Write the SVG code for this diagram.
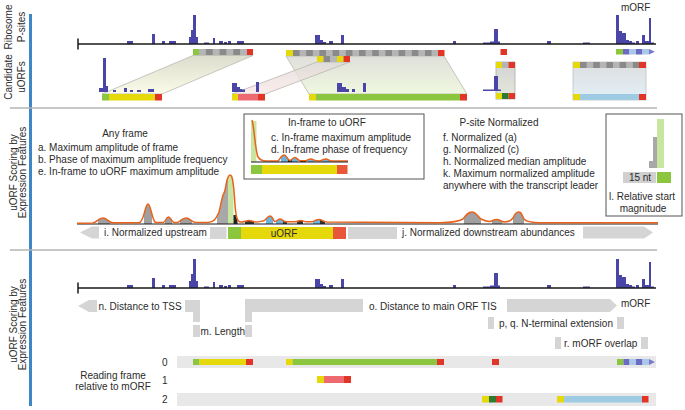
<svg xmlns="http://www.w3.org/2000/svg" width="685" height="410" viewBox="0 0 685 410">
<style>
text{font-family:"Liberation Sans",Arial,sans-serif;font-size:10px;fill:#2b2b2b}
.mid{text-anchor:middle}
.ps{fill:#4a46a8}
.ax{stroke:#1a1a1a;stroke-width:1.5;fill:none}
.sep{stroke:#b4b4b4;stroke-width:1.5}
.g{fill:#8cc63f}.y{fill:#e6d90b}.r{fill:#e03527}.pk{fill:#ee6a70}.dg{fill:#2e7a30}.lb{fill:#9ecbe2}
.dk{fill:#8a8a8a}.lt{fill:#b5b5b5}
.arr{fill:#d5d5d5}
.band{fill:#e8e8e8}
.box{fill:none;stroke:#555;stroke-width:1}
.crv{fill:none;stroke:#e8621c;stroke-width:1.5}
.mp{fill:#6b6bc4}.ml{fill:#aac8ea}
.trap{stroke:#b8b8b0;stroke-width:0.8}
</style>
<defs>
<pattern id="chkD" width="13.2" height="20" patternUnits="userSpaceOnUse"><rect width="6.6" height="20" fill="#8a8a8a"/><rect x="6.6" width="6.6" height="20" fill="#b5b5b5"/></pattern>
<pattern id="chkL" width="13.7" height="20" patternUnits="userSpaceOnUse"><rect width="6.85" height="20" fill="#b5b5b5"/><rect x="6.85" width="6.85" height="20" fill="#8a8a8a"/></pattern>
<linearGradient id="gr1" x1="0" y1="0" x2="0" y2="1"><stop offset="0" stop-color="#d9d9c8"/><stop offset="1" stop-color="#fbfbe6"/></linearGradient>
<linearGradient id="gr2" x1="0" y1="0" x2="0" y2="1"><stop offset="0" stop-color="#dedad6"/><stop offset="1" stop-color="#fbe6e6"/></linearGradient>
<linearGradient id="gr3" x1="0" y1="0" x2="0" y2="1"><stop offset="0" stop-color="#dcdcd6"/><stop offset="1" stop-color="#eef7dc"/></linearGradient>
<linearGradient id="gr4" x1="0" y1="0" x2="0" y2="1"><stop offset="0" stop-color="#d4d4d4"/><stop offset="1" stop-color="#e4e8da"/></linearGradient>
<linearGradient id="gr5" x1="0" y1="0" x2="0" y2="1"><stop offset="0" stop-color="#dedede"/><stop offset="1" stop-color="#e2f0f8"/></linearGradient>
<g id="hist">
<rect class="ps" x="127" y="41" width="6" height="3"/>
<rect class="ps" x="152" y="34" width="3" height="10"/>
<rect class="ps" x="162" y="41" width="3" height="3"/>
<rect class="ps" x="169" y="41" width="7" height="3"/>
<rect class="ps" x="189" y="37" width="2" height="7"/>
<rect class="ps" x="191" y="30" width="2" height="14"/>
<rect class="ps" x="193" y="15" width="3" height="29"/>
<rect class="ps" x="196" y="37" width="2" height="7"/>
<rect class="ps" x="204" y="42.5" width="5" height="1.5"/>
<rect class="ps" x="213" y="38" width="2" height="6"/>
<rect class="ps" x="219" y="41" width="4" height="3"/>
<rect class="ps" x="224" y="42" width="3" height="2"/>
<rect class="ps" x="228" y="41" width="3" height="3"/>
<rect class="ps" x="237" y="41" width="7" height="3"/>
<rect class="ps" x="315" y="35" width="5" height="9"/>
<rect class="ps" x="320" y="40" width="3" height="4"/>
<rect class="ps" x="323" y="42" width="3" height="2"/>
<rect class="ps" x="329" y="41" width="4" height="3"/>
<rect class="ps" x="341" y="35" width="3" height="9"/>
<rect class="ps" x="453" y="41" width="3" height="3"/>
<rect class="ps" x="483" y="42.5" width="7" height="1.5"/>
<rect class="ps" x="490" y="41.5" width="4" height="2.5"/>
<rect class="ps" x="494" y="29" width="4" height="15"/>
<rect class="ps" x="498" y="41.5" width="2" height="2.5"/>
<rect class="ps" x="547" y="41" width="4" height="3"/>
<rect class="ps" x="583" y="42.5" width="7" height="1.5"/>
<rect class="ps" x="616" y="15" width="3" height="29"/>
<rect class="ps" x="619" y="31" width="3" height="13"/>
<rect class="ps" x="622" y="33" width="4" height="11"/>
<rect class="ps" x="626" y="40" width="3" height="4"/>
<rect class="ps" x="629" y="41" width="3" height="3"/>
<rect class="ps" x="632" y="42.5" width="3" height="1.5"/>
<rect class="ps" x="636" y="41" width="3" height="3"/>
<rect class="ps" x="642" y="35" width="3" height="9"/>
<rect class="ps" x="645" y="41" width="4" height="3"/>
<rect class="ps" x="649" y="18" width="2" height="26"/>
<rect class="ps" x="651" y="42.5" width="3" height="1.5"/>
<path class="ax" d="M78,44 H656 M78,38.5 V49.5"/>
</g>
<clipPath id="under"><path d="M77,223.3 L93,223 C97,222.5 98,218 103,218 C107,218 108,222.5 113,222.8 L139,222.8 C144,222.5 145,204 148,204 C151,204 152,222 156,222.6 L163,222.5 C166,222 166,217 168.5,217 C171,217 171,222 174,222.4 L178,222.4 C181,221 182,218 186,218 C190,218 191,221.5 195,222.3 L208,222.5 C214,222 216,219 219,212 C221,205 222,196 224,193 C226,190 226,176 230,175 C233,174 234,190 235,205 C236,215 236.5,221 240,222 C244,222.5 246,220.5 249,220.5 C252,220.5 253,222 256,222 C260,222 261,221 263,221 C266,221 267,216 270,216 C273,216 273,221.5 275,221.5 C277,221.5 278,219 280,219 C282,219 283,221.5 286,221.8 L296,221.8 C298,221 299,220.5 301,220.5 C303,220.5 304,221.8 306,221.8 L312,221.8 C315,221 316,219.5 319,219.5 C322,219.5 323,221.5 327,222 L440,222.8 C450,222.5 458,222 463,219 C466,215 468,212 472,212 C476,212 478,217 481,219 C484,220.5 487,222 490,221.5 C492,221 494,219.5 497,219.5 C500,219.5 501,222 504,222 C508,222 511,221 513,218 C515,214 516,212 519,212 C522,212 522,216 524,219 C526,221.5 530,222.5 540,222.8 L658,222.8 L658,224 L77,224 Z"/></clipPath>
<clipPath id="under2"><path d="M252,120 C254,125 255,150 258,157 C260,160 262,161 266,161 L278,161 C280,160 281,155 284,155 C287,155 287,160 290,160.5 C292,160 293,157.5 295,157.5 C297,157.5 298,160.5 300,160.8 L306,160.8 C308,160 309,159 311,159 C313,159 314,160.8 316,160.8 L320,161 C322,160 324,159 326,159 C328,159 329,160.8 332,161 L348,161 L348,162 L252,162 Z"/></clipPath>
</defs>

<rect x="29" y="14" width="3" height="392" fill="#3f86c6"/>
<line class="sep" x1="10" y1="108" x2="657" y2="108"/>
<line class="sep" x1="10" y1="250" x2="657" y2="250"/>

<g id="labels-left">
<text class="mid" transform="translate(12,27) rotate(-90)">Ribosome</text>
<text class="mid" transform="translate(24.5,27) rotate(-90)">P-sites</text>
<text class="mid" transform="translate(12,77) rotate(-90)">Candidate</text>
<text class="mid" transform="translate(24.5,77) rotate(-90)">uORFs</text>
<text class="mid" transform="translate(16.5,172.5) rotate(-90)">uORF Scoring by</text>
<text class="mid" transform="translate(26,172.5) rotate(-90)">Expression Features</text>
<text class="mid" transform="translate(16.5,324.5) rotate(-90)">uORF Scoring by</text>
<text class="mid" transform="translate(26,324.5) rotate(-90)">Expression Features</text>
</g>

<!-- Section 1 -->
<g id="psites-top">
<use href="#hist"/>
<text x="621" y="10.5">mORF</text>
</g>

<g id="projections">
<polygon class="trap" points="193,55.5 253,55.5 162,94 102,94" fill="url(#gr1)" fill-opacity="0.9"/>
<polygon class="trap" points="286,56 444,56 467,94 309,94" fill="url(#gr3)" fill-opacity="0.9"/>
<polygon class="trap" points="317,62 350,62 265,94 232,94" fill="url(#gr2)" fill-opacity="0.75"/>
</g>

<g id="transcript-orfs">
<rect class="g" x="193" y="49" width="6" height="6"/>
<rect x="0" y="0" width="48" height="6" fill="url(#chkL)" transform="translate(199,49)"/>
<rect class="r" x="247" y="49" width="6" height="6"/>
<rect class="y" x="286" y="50" width="7" height="6"/>
<rect x="0" y="0" width="145" height="6" fill="url(#chkD)" transform="translate(293,50)"/>
<rect class="r" x="438" y="50" width="6.5" height="6"/>
<rect class="y" x="317" y="56" width="6.5" height="6"/>
<rect class="dk" x="323.5" y="56" width="6.5" height="6"/>
<rect class="lt" x="330" y="56" width="7" height="6"/>
<rect class="y" x="337" y="56" width="6.5" height="6"/>
<rect class="r" x="343.5" y="56" width="6.5" height="6"/>
<rect class="r" x="500.5" y="49" width="6.5" height="6"/>
<rect class="g" x="616" y="49" width="7" height="5.5"/>
<rect class="mp" x="623" y="49" width="6.5" height="5.5"/>
<rect class="ml" x="629.5" y="49" width="6.5" height="5.5"/>
<rect class="mp" x="636" y="49" width="6.5" height="5.5"/>
<rect class="ml" x="642.5" y="49" width="6.5" height="5.5"/>
<polygon points="649,49 655,51.75 649,54.5" fill="#7a7acc"/>
</g>

<g id="uorf1">
<rect class="ps" x="99" y="88" width="4" height="4"/>
<rect class="ps" x="103" y="58" width="3" height="34"/>
<rect class="ps" x="106" y="86" width="2" height="6"/>
<rect class="ps" x="113" y="90" width="3" height="2"/>
<rect class="ps" x="124" y="88" width="3" height="4"/>
<rect class="ps" x="130" y="90" width="3" height="2"/>
<rect class="ps" x="137" y="90" width="4" height="2"/>
<rect class="ps" x="148" y="89" width="6" height="3"/>
<rect class="g" x="102" y="94" width="7" height="6.5"/>
<rect class="y" x="109" y="94" width="46" height="6.5"/>
<rect class="r" x="155" y="94" width="7" height="6.5"/>
</g>

<g id="uorf2">
<rect class="ps" x="232" y="83" width="5" height="9"/>
<rect class="ps" x="237" y="87" width="3" height="5"/>
<rect class="ps" x="240" y="89" width="2" height="3"/>
<rect class="ps" x="242" y="89.5" width="3" height="2.5"/>
<rect class="ps" x="256" y="82" width="3" height="10"/>
<rect class="y" x="232" y="94" width="6" height="6.5"/>
<rect class="pk" x="238" y="94" width="20" height="6.5"/>
<rect class="r" x="258" y="94" width="7" height="6.5"/>
</g>

<g id="uorf3">
<rect class="ps" x="337" y="83" width="5" height="9"/>
<rect class="ps" x="342" y="87" width="4" height="5"/>
<rect class="ps" x="346" y="89" width="3" height="3"/>
<rect class="ps" x="352" y="89" width="3" height="3"/>
<rect class="ps" x="363" y="83" width="3" height="9"/>
<rect class="y" x="309" y="94" width="7" height="6.5"/>
<rect class="g" x="316" y="94" width="144" height="6.5"/>
<rect class="r" x="460" y="94" width="7" height="6.5"/>
</g>

<g id="uorf4">
<rect x="496" y="62" width="19" height="37" fill="url(#gr4)" stroke="#aaa" stroke-width="0.8"/>
<rect class="ps" x="483" y="89.5" width="11" height="1.5"/>
<rect class="ps" x="494" y="76" width="4" height="15"/>
<rect class="ps" x="498" y="89.5" width="3" height="1.5"/>
<rect class="y" x="496" y="62" width="6" height="6"/>
<rect class="lt" x="502" y="62" width="6.5" height="6"/>
<rect class="r" x="508.5" y="62" width="6.5" height="6"/>
<rect class="y" x="496" y="93" width="6" height="6"/>
<rect class="dg" x="502" y="93" width="6.5" height="6"/>
<rect class="r" x="508.5" y="93" width="6.5" height="6"/>
</g>

<g id="uorf5">
<rect x="573" y="62" width="73" height="38" fill="url(#gr5)" stroke="#c0c0c0" stroke-width="0.8"/>
<rect class="y" x="573" y="62" width="7" height="6"/>
<rect x="0" y="0" width="59" height="6" fill="url(#chkD)" transform="translate(580,62)"/>
<rect class="r" x="639" y="62" width="7" height="6"/>
<rect class="y" x="573" y="94" width="7" height="6"/>
<rect class="lb" x="580" y="94" width="59" height="6"/>
<rect class="r" x="639" y="94" width="7" height="6"/>
</g>

<!-- Section 2 -->
<g id="any-frame">
<text class="mid" x="125" y="137">Any frame</text>
<text x="38" y="151">a. Maximum amplitude of frame</text>
<text x="38" y="163">b. Phase of maximum amplitude frequency</text>
<text x="38" y="175">e. In-frame to uORF maximum amplitude</text>
</g>

<g id="in-frame-box">
<rect class="box" x="244" y="114" width="180" height="65"/>
<rect x="251" y="121" width="5.5" height="41" fill="#c8e6a0"/>
<g clip-path="url(#under2)">
<rect x="281" y="150" width="7" height="12" fill="#6db4dc"/>
<rect x="292" y="150" width="6" height="12" fill="#6db4dc"/>
<rect x="308" y="150" width="6" height="12" fill="#6db4dc"/>
<rect x="322" y="150" width="8" height="12" fill="#6db4dc"/>
<rect x="300" y="159.5" width="6" height="3" fill="#222"/>
<rect x="288" y="159.5" width="4" height="3" fill="#222"/>
</g>
<path class="crv" d="M252,120 C254,125 255,150 258,157 C260,160 262,161 266,161 L278,161 C280,160 281,155 284,155 C287,155 287,160 290,160.5 C292,160 293,157.5 295,157.5 C297,157.5 298,160.5 300,160.8 L306,160.8 C308,160 309,159 311,159 C313,159 314,160.8 316,160.8 L320,161 C322,160 324,159 326,159 C328,159 329,160.8 332,161 L348,161"/>
<line x1="251" y1="162" x2="348" y2="162" stroke="#1a1a1a" stroke-width="1.2"/>
<rect class="g" x="251" y="165" width="11" height="9"/>
<rect class="y" x="262" y="165" width="75" height="9"/>
<rect x="337" y="165" width="10.5" height="9" fill="#e8573a"/>
<text class="mid" x="327" y="126">In-frame to uORF</text>
<text x="271" y="140.5">c. In-frame maximum amplitude</text>
<text x="271" y="152.5">d. In-frame phase of frequency</text>
</g>

<g id="psite-normalized">
<text class="mid" x="499" y="126">P-site Normalized</text>
<text x="443" y="141">f. Normalized (a)</text>
<text x="443" y="153">g. Normalized (c)</text>
<text x="443" y="165">h. Normalized median amplitude</text>
<text x="443" y="177">k. Maximum normalized amplitude</text>
<text x="443" y="189">anywhere with the transcript leader</text>
</g>

<g id="start-magnitude">
<rect class="box" x="606" y="114" width="76" height="102"/>
<rect x="657" y="119" width="7" height="49" fill="#c8e6a0"/>
<rect x="653" y="137" width="4" height="31" fill="#a8a8a8"/>
<rect x="649" y="161" width="4" height="7" fill="#a8a8a8"/>
<rect x="623" y="172" width="33" height="11" fill="#d0d0d0"/>
<rect x="657" y="172" width="14" height="11" fill="#8cc63f"/>
<text class="mid" x="640" y="181">15 nt</text>
<text class="mid" x="642" y="200">l. Relative start</text>
<text class="mid" x="643" y="211.5">magnitude</text>
</g>

<g id="profile">
<g clip-path="url(#under)">
<rect x="98" y="200" width="12" height="24" fill="#a0a0a0"/>
<rect x="144" y="200" width="8" height="24" fill="#a0a0a0"/>
<rect x="165" y="200" width="7" height="24" fill="#a0a0a0"/>
<rect x="180" y="200" width="12" height="24" fill="#a0a0a0"/>
<rect x="217" y="170" width="11" height="54" fill="#a8a8a8"/>
<rect x="228" y="170" width="5.5" height="54" fill="#c8e6a0"/>
<rect x="233.5" y="215" width="4" height="9" fill="#222"/>
<rect x="245" y="215" width="9" height="9" fill="#333"/>
<rect x="266" y="210" width="7" height="14" fill="#6db4dc"/>
<rect x="276" y="210" width="7" height="14" fill="#6db4dc"/>
<rect x="283" y="221" width="4" height="3" fill="#333"/>
<rect x="297" y="210" width="6" height="14" fill="#333"/>
<rect x="313" y="210" width="7" height="14" fill="#6db4dc"/>
<rect x="320" y="210" width="5" height="14" fill="#333"/>
<rect x="464" y="205" width="17" height="19" fill="#a0a0a0"/>
<rect x="492" y="205" width="10" height="19" fill="#a0a0a0"/>
<rect x="513" y="205" width="11" height="19" fill="#a0a0a0"/>
</g>
<line x1="77" y1="224" x2="658" y2="224" stroke="#1a1a1a" stroke-width="1.2"/>
<path class="crv" d="M77,223.3 L93,223 C97,222.5 98,218 103,218 C107,218 108,222.5 113,222.8 L139,222.8 C144,222.5 145,204 148,204 C151,204 152,222 156,222.6 L163,222.5 C166,222 166,217 168.5,217 C171,217 171,222 174,222.4 L178,222.4 C181,221 182,218 186,218 C190,218 191,221.5 195,222.3 L208,222.5 C214,222 216,219 219,212 C221,205 222,196 224,193 C226,190 226,176 230,175 C233,174 234,190 235,205 C236,215 236.5,221 240,222 C244,222.5 246,220.5 249,220.5 C252,220.5 253,222 256,222 C260,222 261,221 263,221 C266,221 267,216 270,216 C273,216 273,221.5 275,221.5 C277,221.5 278,219 280,219 C282,219 283,221.5 286,221.8 L296,221.8 C298,221 299,220.5 301,220.5 C303,220.5 304,221.8 306,221.8 L312,221.8 C315,221 316,219.5 319,219.5 C322,219.5 323,221.5 327,222 L440,222.8 C450,222.5 458,222 463,219 C466,215 468,212 472,212 C476,212 478,217 481,219 C484,220.5 487,222 490,221.5 C492,221 494,219.5 497,219.5 C500,219.5 501,222 504,222 C508,222 511,221 513,218 C515,214 516,212 519,212 C522,212 522,216 524,219 C526,221.5 530,222.5 540,222.8 L658,222.8"/>
</g>

<g id="profile-bars">
<polygon class="arr" points="80,232.5 92,226.5 210,226.5 210,238.5 92,238.5"/>
<rect x="99" y="226.5" width="111" height="12" fill="#fff"/>
<rect class="arr" x="210" y="227" width="16.5" height="12"/>
<text x="104" y="236">i. Normalized upstream</text>
<rect class="g" x="228" y="227" width="13" height="12"/>
<rect class="y" x="241" y="227" width="92" height="12"/>
<rect x="333" y="227" width="13" height="12" fill="#e8573a"/>
<text class="mid" x="284" y="236.5">uORF</text>
<rect class="arr" x="348" y="227" width="49" height="12"/>
<text x="402" y="236">j. Normalized downstream abundances</text>
<polygon class="arr" points="583,226.5 644,226.5 653,232.5 644,238.5 583,238.5"/>
</g>

<!-- Section 3 -->
<g id="psites-bottom">
<use href="#hist" y="244"/>
</g>

<g id="feat-n">
<polygon class="arr" points="78,306 89,300 97,300 97,312 89,312"/>
<text x="98.5" y="310">n. Distance to TSS</text>
<rect class="arr" x="185" y="300" width="15" height="12"/>
<rect class="arr" x="193" y="300" width="7" height="22"/>
</g>
<g id="feat-m">
<rect class="arr" x="193" y="325" width="7" height="12"/>
<text x="200.5" y="335">m. Length</text>
<rect class="arr" x="245" y="325" width="7" height="12"/>
</g>
<g id="feat-o">
<rect class="arr" x="245" y="299" width="7" height="23"/>
<rect class="arr" x="245" y="299" width="118" height="13"/>
<text x="369" y="309.5">o. Distance to main ORF TIS</text>
<polygon class="arr" points="507,299 610,299 617,305.5 610,312 507,312"/>
<text x="621" y="307">mORF</text>
</g>
<g id="feat-pq">
<rect class="arr" x="488" y="317" width="6" height="12"/>
<text x="499" y="326.5">p, q. N-terminal extension</text>
<rect class="arr" x="617" y="317" width="7" height="12"/>
</g>
<g id="feat-r">
<rect class="arr" x="555" y="337" width="6" height="12"/>
<text x="564" y="346.5">r. mORF overlap</text>
<rect class="arr" x="641" y="337" width="7" height="12"/>
</g>

<g id="frames">
<text class="mid" x="113" y="379">Reading frame</text>
<text class="mid" x="113" y="390">relative to mORF</text>
<text x="162" y="365.5">0</text>
<text x="162" y="384">1</text>
<text x="162" y="403">2</text>
<rect class="band" x="177" y="356" width="479" height="12"/>
<rect class="g" x="193" y="359" width="6.5" height="6"/>
<rect class="y" x="199.5" y="359" width="46.5" height="6"/>
<rect class="r" x="246" y="359" width="7" height="6"/>
<rect class="y" x="286" y="359" width="6.5" height="6"/>
<rect class="g" x="292.5" y="359" width="144.5" height="6"/>
<rect class="r" x="437" y="359" width="7" height="6"/>
<rect class="r" x="492" y="359" width="7" height="6"/>
<rect class="g" x="617" y="359" width="6.5" height="6"/>
<rect class="mp" x="623.5" y="359" width="6" height="6"/>
<rect class="ml" x="629.5" y="359" width="6.5" height="6"/>
<rect class="mp" x="636" y="359" width="6.5" height="6"/>
<rect class="ml" x="642.5" y="359" width="6.5" height="6"/>
<polygon points="649,359 655,362 649,365" fill="#7a7acc"/>
<rect class="y" x="317" y="376" width="7" height="7"/>
<rect class="pk" x="324" y="376" width="20" height="7"/>
<rect class="r" x="344" y="376" width="7" height="7"/>
<rect class="band" x="177" y="393" width="479" height="13"/>
<rect class="y" x="482" y="396" width="7" height="6.5"/>
<rect class="dg" x="489" y="396" width="7" height="6.5"/>
<rect class="r" x="496" y="396" width="6.5" height="6.5"/>
<rect class="y" x="557" y="396" width="7" height="6.5"/>
<rect class="lb" x="564" y="396" width="78" height="6.5"/>
<rect class="r" x="642" y="396" width="6.5" height="6.5"/>
</g>
</svg>
